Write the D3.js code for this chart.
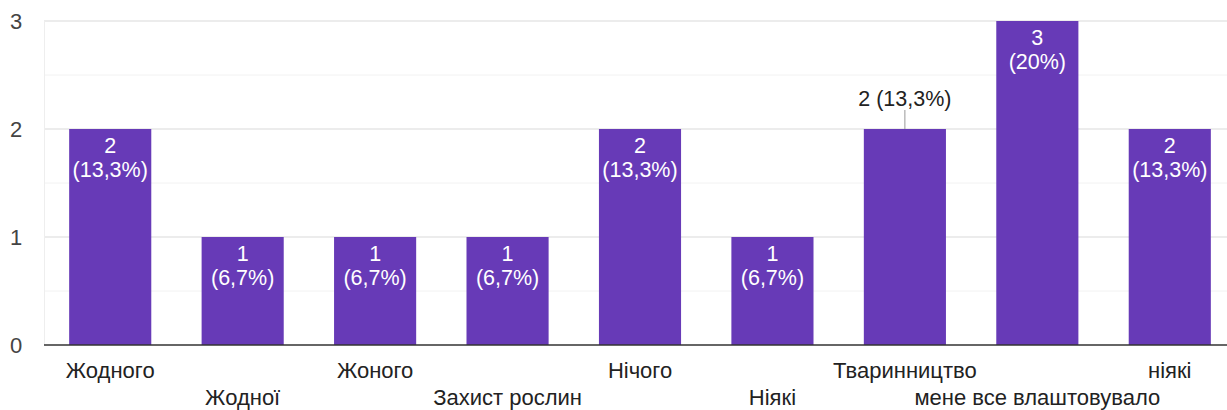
<!DOCTYPE html>
<html>
<head>
<meta charset="utf-8">
<script src="https://cdn.jsdelivr.net/npm/d3@7"></script>
<style>
  body { margin: 0; background: #fff; }
  text { font-family: Arial, "Liberation Sans", sans-serif; }
</style>
</head>
<body>
<div id="chart"></div>
<script>
// chart data
let categories = ["Жодного", "Жодної", "Жоного", "Захист рослин", "Нічого", "Ніякі", "Тваринництво", "мене все влаштовувало", "ніякі"];
let counts = [2, 1, 1, 1, 2, 1, 2, 3, 2];
let percents = ["13,3%", "6,7%", "6,7%", "6,7%", "13,3%", "6,7%", "13,3%", "20%", "13,3%"];
let yTicks = [0, 1, 2, 3];
let yMinor = [0.5, 1.5, 2.5];
// which bar has its label outside, above the bar
let outsideLabel = [false, false, false, false, false, false, true, false, false];

let svgWidth = 1227;
let svgHeight = 410;

let margin = { top: 21, right: -9, bottom: 65, left: 44 };
let width = svgWidth - margin.left - margin.right;
let height = svgHeight - margin.top - margin.bottom;

let svg = d3.select("#chart")
    .append("svg")
    .attr("width", svgWidth)
    .attr("height", svgHeight);

let chartGroup = svg.append("g")
    .attr("transform", `translate(${margin.left}, ${margin.top})`);

let x = d3.scaleBand()
    .domain(categories)
    .range([0, width])
    .paddingInner(0.38)
    .paddingOuter(0.19);

let y = d3.scaleLinear()
    .domain([0, 3])
    .range([height, 0]);

// minor gridlines
chartGroup.selectAll(".minor")
    .data(yMinor)
    .enter()
    .append("line")
    .attr("x1", 0)
    .attr("x2", svgWidth)
    .attr("y1", d => y(d))
    .attr("y2", d => y(d))
    .attr("stroke", "#f2f2f2")
    .attr("stroke-width", 1);

// major gridlines
chartGroup.selectAll(".major")
    .data(yTicks.filter(d => d > 0))
    .enter()
    .append("line")
    .attr("x1", 0)
    .attr("x2", svgWidth)
    .attr("y1", d => y(d))
    .attr("y2", d => y(d))
    .attr("stroke", "#e6e6e6")
    .attr("stroke-width", 1.5);

// left vertical gridline
chartGroup.append("line")
    .attr("x1", 0.5).attr("x2", 0.5)
    .attr("y1", 0).attr("y2", height)
    .attr("stroke", "#eeeeee");

// y axis labels
chartGroup.selectAll(".ylabel")
    .data(yTicks)
    .enter()
    .append("text")
    .attr("x", -28)
    .attr("y", d => y(d) + 8)
    .attr("text-anchor", "middle")
    .attr("font-size", 22)
    .attr("fill", "#444")
    .text(d => d);

// bars
chartGroup.selectAll("rect")
    .data(counts)
    .enter()
    .append("rect")
    .attr("x", (d, i) => x(categories[i]))
    .attr("y", d => y(d))
    .attr("width", x.bandwidth())
    .attr("height", d => height - y(d))
    .attr("fill", "#673ab7");

// baseline
chartGroup.append("line")
    .attr("x1", 0)
    .attr("x2", svgWidth)
    .attr("y1", height)
    .attr("y2", height)
    .attr("stroke", "#333")
    .attr("stroke-width", 1.5);

// value labels
counts.forEach(function(d, i) {
    let cx = x(categories[i]) + x.bandwidth() / 2;
    if (outsideLabel[i]) {
        chartGroup.append("line")
            .attr("x1", cx).attr("x2", cx)
            .attr("y1", y(d) - 19).attr("y2", y(d))
            .attr("stroke", "#999");
        chartGroup.append("text")
            .attr("x", cx)
            .attr("y", y(d) - 23)
            .attr("text-anchor", "middle")
            .attr("font-size", 21.5)
            .attr("fill", "#222")
            .text(`${d} (${percents[i]})`);
    } else {
        let t = chartGroup.append("text")
            .attr("text-anchor", "middle")
            .attr("font-size", 21.5)
            .attr("fill", "#fff");
        t.append("tspan")
            .attr("x", cx)
            .attr("y", y(d) + 24)
            .text(d);
        t.append("tspan")
            .attr("x", cx)
            .attr("y", y(d) + 48)
            .text(`(${percents[i]})`);
    }
});

// x axis labels, staggered in two rows
chartGroup.selectAll(".xlabel")
    .data(categories)
    .enter()
    .append("text")
    .attr("x", d => x(d) + x.bandwidth() / 2)
    .attr("y", (d, i) => height + (i % 2 === 0 ? 33 : 60))
    .attr("text-anchor", "middle")
    .attr("font-size", 22)
    .attr("fill", "#222")
    .text(d => d);
</script>
</body>
</html>
